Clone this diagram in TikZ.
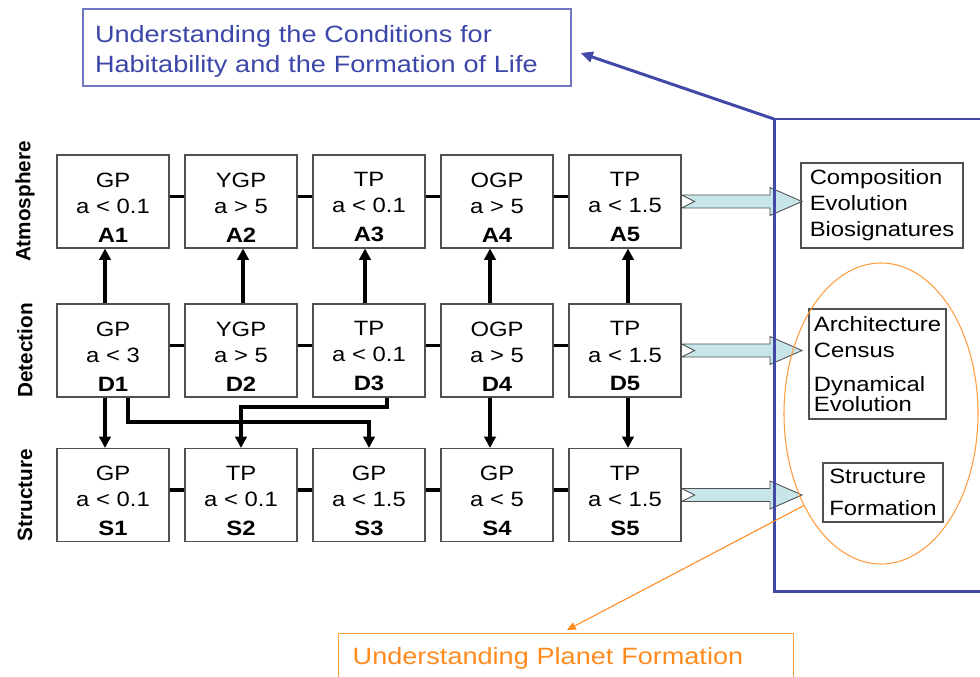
\documentclass[tikz,border=0pt]{standalone}
\usepackage{fontspec}
\setmainfont{Liberation Sans}[FakeStretch=1.15]
\newfontfamily\rowfont{Liberation Sans}
\usetikzlibrary{arrows.meta,calc,shapes.geometric}
\definecolor{framec}{HTML}{4248A8}
\definecolor{habitc}{HTML}{3C46A8}
\definecolor{habitl}{HTML}{7078C4}
\definecolor{planetc}{HTML}{FF8A1E}
\definecolor{planetl}{HTML}{FFA040}
\definecolor{fatc}{HTML}{C8E6EA}
\definecolor{cellc}{HTML}{505050}
\tikzset{
  cell/.style={draw=cellc, line width=0.6pt, minimum width=2.24cm, minimum height=1.86cm,
    inner sep=0pt, align=center, font=\fontsize{11.8}{14.8}\selectfont},
  goal/.style={draw=cellc, line width=0.6pt, inner sep=0pt, align=left,
    font=\fontsize{11.8}{14.8}\selectfont},
  rowlab/.style={rotate=90, font=\rowfont\bfseries\fontsize{11.8}{14}\selectfont},
  link/.style={line width=2pt},
  feed/.style={line width=2pt, -{Triangle[width=6.5pt,length=6.5pt]}},
  fat/.style={fill=fatc, draw=cellc, line width=0.5pt},
  frame/.style={draw=framec, line width=1.7pt},
  reach/.style={draw=framec, line width=1.7pt, -{Triangle[width=6pt,length=7pt]}},
  spark/.style={draw=planetc, line width=0.6pt, -{Triangle[width=4.5pt,length=5pt]}},
  orb/.style={draw=planetc!85, line width=0.6pt, ellipse, inner sep=0pt},
}
% cell text: kind, orbit, label
\newcommand{\celltext}[3]{\rule{0pt}{14.9pt}#1\\#2\\[1.7pt]\textbf{#3}}
\newcommand{\fatarrow}[2]{%
  \filldraw[fat] let \p1=(#1), \p2=(#2) in
    (\x1,\y1+0.13cm) -- (\x2-0.64cm,\y1+0.13cm) -- (\x2-0.64cm,\y1+0.28cm) -- (\x2,\y1)
    -- (\x2-0.64cm,\y1-0.28cm) -- (\x2-0.64cm,\y1-0.13cm) -- (\x1,\y1-0.13cm)
    -- (\x1+0.26cm,\y1) -- cycle;}

\begin{document}
\begin{tikzpicture}
\useasboundingbox (0,0) rectangle (19.6,-13.54);
% goals
\node[draw=habitl, line width=0.6pt, text=habitc, align=left, text width=9.28cm, inner xsep=0.24cm,
  minimum height=1.54cm, font=\fontsize{13.4}{16.8}\selectfont] (habit) at (6.54,-0.95)
  {\rule{0pt}{14.3pt}Understanding the Conditions for\\Habitability and the Formation of Life};
\node[draw=planetl, line width=0.8pt, text=planetc, align=left, text width=8.54cm, inner xsep=0.28cm,
  inner ysep=0.28cm, anchor=north west, font=\fontsize{13.4}{15.4}\selectfont] (planet) at (6.76,-12.66)
  {Understanding Planet Formation};
% row labels
\node[rowlab] (atm) at (0.5,-4.03) {Atmosphere};
\node[rowlab] (det) at (0.5,-7.01) {Detection};
\node[rowlab] (str) at (0.5,-9.9) {Structure};
% cells
\node[cell] (A1) at (2.26,-4.03) {\celltext{GP}{a < 0.1}{A1}};
\node[cell] (A2) at (4.82,-4.03) {\celltext{YGP}{a > 5}{A2}};
\node[cell] (A3) at (7.38,-4.03) {\celltext{TP}{a < 0.1}{A3}};
\node[cell] (A4) at (9.94,-4.03) {\celltext{OGP}{a > 5}{A4}};
\node[cell] (A5) at (12.5,-4.03) {\celltext{TP}{a < 1.5}{A5}};
\node[cell] (D1) at (2.26,-7.01) {\celltext{GP}{a < 3}{D1}};
\node[cell] (D2) at (4.82,-7.01) {\celltext{YGP}{a > 5}{D2}};
\node[cell] (D3) at (7.38,-7.01) {\celltext{TP}{a < 0.1}{D3}};
\node[cell] (D4) at (9.94,-7.01) {\celltext{OGP}{a > 5}{D4}};
\node[cell] (D5) at (12.5,-7.01) {\celltext{TP}{a < 1.5}{D5}};
\node[cell] (S1) at (2.26,-9.9) {\celltext{GP}{a < 0.1}{S1}};
\node[cell] (S2) at (4.82,-9.9) {\celltext{TP}{a < 0.1}{S2}};
\node[cell] (S3) at (7.38,-9.9) {\celltext{GP}{a < 1.5}{S3}};
\node[cell] (S4) at (9.94,-9.9) {\celltext{GP}{a < 5}{S4}};
\node[cell] (S5) at (12.5,-9.9) {\celltext{TP}{a < 1.5}{S5}};
% outcomes
\node[goal, minimum width=3.24cm, minimum height=1.7cm] (comp) at (17.64,-4.11)
  {Composition\\Evolution\\Biosignatures};
\node[goal, minimum width=2.74cm, minimum height=2.2cm] (arch) at (17.55,-7.28)
  {Architecture\\Census\\[4.6pt]Dynamical\\[-3.4pt]Evolution};
\node[goal, minimum width=2.4cm, minimum height=1.18cm] (strc) at (17.66,-9.85)
  {Structure\\[3.5pt]Formation};
\coordinate (tipA) at (16.04,-4.03);
\coordinate (tipD) at (16.04,-6.94);
\coordinate (tipS) at (16.04,-9.84);
% links along rows
\foreach \r in {A,D,S}
  \foreach \i/\j in {1/2,2/3,3/4,4/5}
    \draw[link] ([yshift=0.1cm]\r\i.east) -- ([yshift=0.1cm]\r\j.west);
% detection feeds
\foreach \i/\dx in {1/-0.16,2/0.04,3/-0.08,4/-0.14,5/0.06}
  \draw[feed] ([xshift=\dx cm]D\i.north) -- ([xshift=\dx cm]A\i.south);
\foreach \i/\dx in {1/-0.16,4/-0.14,5/0.06}
  \draw[feed] ([xshift=\dx cm]D\i.south) -- ([xshift=\dx cm]S\i.north);
\draw[feed] ([xshift=0.3cm]D1.south) |- ($(S3.north)+(0,0.52)$) -- (S3.north);
\draw[feed] ([xshift=0.36cm]D3.south) |- ($(S2.north)+(0,0.82)$) -- (S2.north);
% fat arrows
\fatarrow{A5.east}{tipA}
\fatarrow{D5.east}{tipD}
\fatarrow{S5.east}{tipS}
% frames
\coordinate (corner) at (15.48,-2.38);
\draw[frame] (20,-2.38) -- (corner) -- (15.48,-11.82) -- (20,-11.82);
\draw[reach] (corner) -- ($(habit.east)+(0.18,-0.11)$);
\node[orb, minimum width=3.88cm, minimum height=6.02cm] (orb) at (17.62,-8.27) {};
\draw[spark] (orb.230) -- ($(planet.north west)+(4.58,0.06)$);
\end{tikzpicture}
\end{document}
